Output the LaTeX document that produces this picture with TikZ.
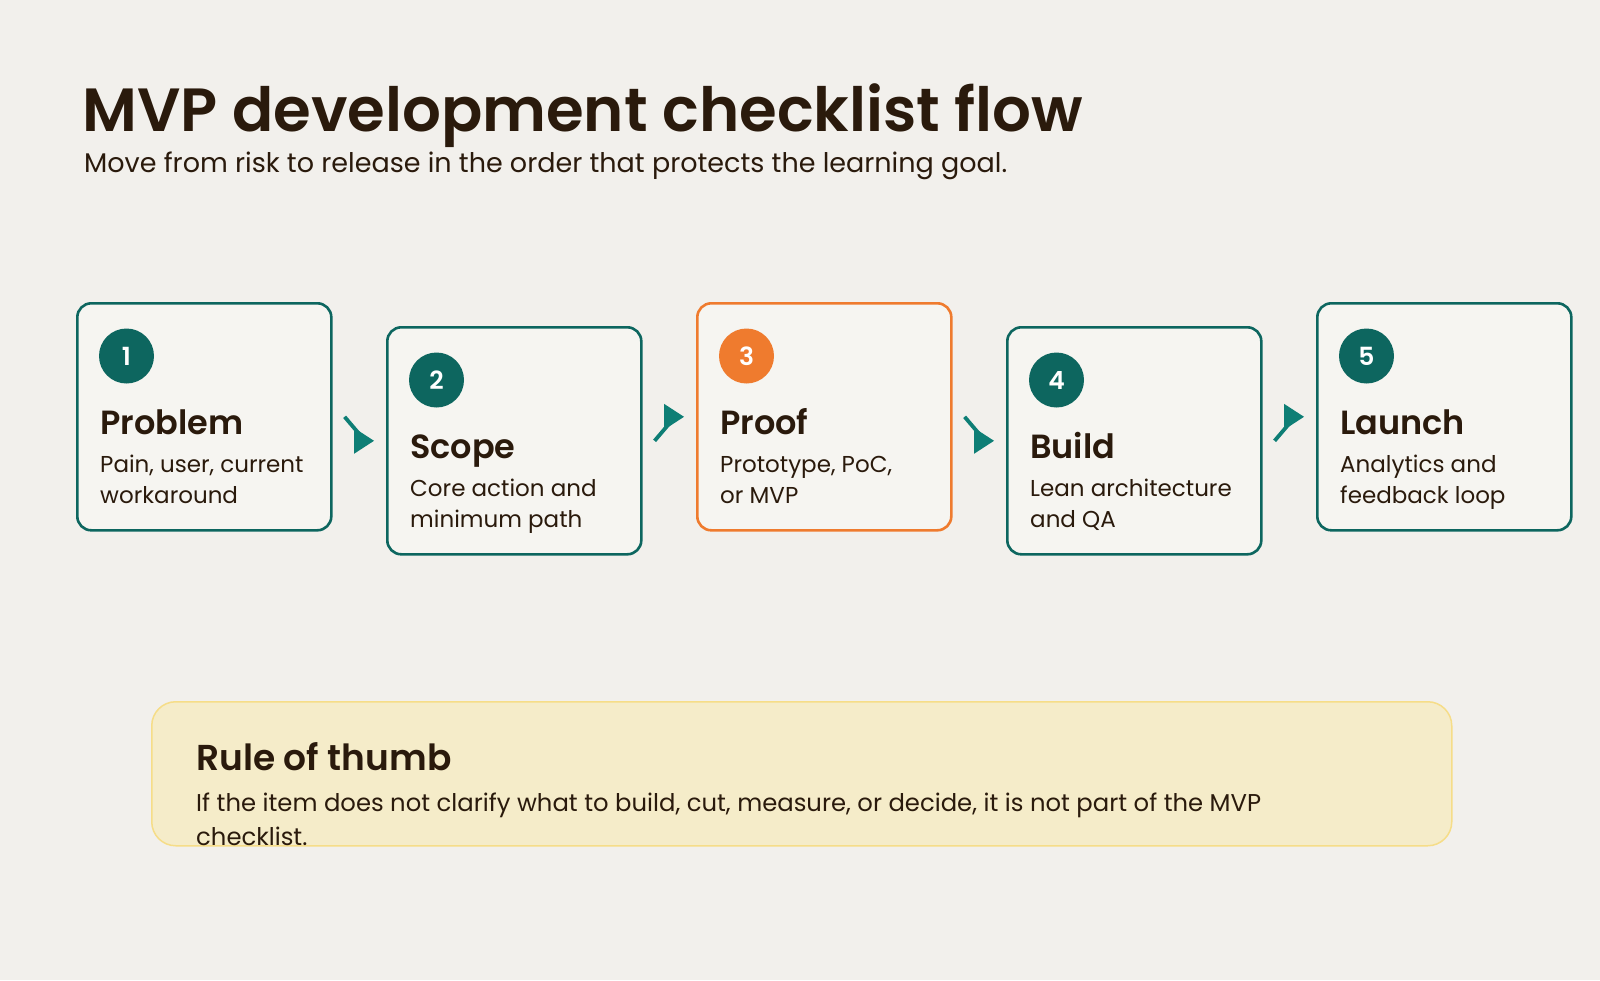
\documentclass[tikz,border=0pt]{standalone}
\usepackage{fontspec}
\setmainfont{Poppins}[BoldFont={Poppins SemiBold}]
\usetikzlibrary{arrows.meta}
\definecolor{bg}{HTML}{F2F0EC}
\definecolor{cardfill}{HTML}{F6F5F1}
\definecolor{teal}{HTML}{0D665F}
\definecolor{arrowteal}{HTML}{0E7E75}
\definecolor{orangec}{HTML}{EF7B2E}
\definecolor{ink}{HTML}{2A1A0C}
\definecolor{rulefill}{HTML}{F5ECC9}
\definecolor{ruledraw}{HTML}{F6DD88}
\tikzset{
  card/.style={draw=teal, line width=2.6pt, fill=cardfill, rounded corners=14pt, minimum width=254pt, minimum height=227pt, inner sep=0pt, anchor=north west},
  hotcard/.style={card, draw=orangec},
  badge/.style={circle, fill=teal, minimum size=55pt, inner sep=0pt, text=white, font=\fontsize{25}{25}\selectfont\bfseries},
  hotbadge/.style={badge, fill=orangec},
  cardtitle/.style={anchor=base west, inner sep=0pt, text=ink, font=\fontsize{33.5}{35}\selectfont\bfseries},
  cardbody/.style={anchor=base west, inner sep=0pt, text=ink, align=left, font=\fontsize{23}{30.5}\selectfont},
  flowline/.style={draw=arrowteal, line width=3.8pt},
  flowhead/.style={fill=arrowteal},
}
\begin{document}
\begin{tikzpicture}[x=1pt,y=-1pt]
\fill[bg] (0,0) rectangle (1600,980);
\useasboundingbox (0,0) rectangle (1600,980);
\node[anchor=base west, inner sep=0pt, text=ink, font=\fontsize{61}{64}\selectfont\bfseries] (title) at (82,131) {MVP development checklist flow};
\node[anchor=base west, inner sep=0pt, text=ink, font=\fontsize{27}{30}\selectfont] (subtitle) at (84,172) {Move from risk to release in the order that protects the learning goal.};
% cards
\node[card] (c1) at (76,302) {};
\node[card] (c2) at (386,326) {};
\node[hotcard] (c3) at (696,302) {};
\node[card] (c4) at (1006,326) {};
\node[card] (c5) at (1316,302) {};
% badges
\node[badge] (b1) at (126.5,356) {1};
\node[badge] (b2) at (436.5,380) {2};
\node[hotbadge] (b3) at (746.5,356) {3};
\node[badge] (b4) at (1056.5,380) {4};
\node[badge] (b5) at (1366.5,356) {5};
% titles
\node[cardtitle] (t1) at (100,434) {Problem};
\node[cardtitle] (t2) at (410,458) {Scope};
\node[cardtitle] (t3) at (720,434) {Proof};
\node[cardtitle] (t4) at (1030,458) {Build};
\node[cardtitle] (t5) at (1340,434) {Launch};
% bodies (base anchor = last line baseline)
\node[cardbody] (d1) at (100,503) {Pain, user, current\\workaround};
\node[cardbody] (d2) at (410,527) {Core action and\\minimum path};
\node[cardbody] (d3) at (720,503) {Prototype, PoC,\\or MVP};
\node[cardbody] (d4) at (1030,527) {Lean architecture\\and QA};
\node[cardbody] (d5) at (1340,503) {Analytics and\\feedback loop};
% connectors: diagonal line, arrowhead pointing right
\foreach \a/\b in {c1/c2, c2/c3, c3/c4, c4/c5} {
  \coordinate (s-\a) at ([xshift=12pt]\a.east);
  \coordinate (e-\a) at ([xshift=-12pt]\b.west);
  \draw[flowline] (s-\a) -- ([xshift=-9pt]e-\a);
  \fill[flowhead] (e-\a) -- ++(-20,-13) -- ++(0,26) -- cycle;
}
% rule of thumb
\node[draw=ruledraw, line width=1.5pt, fill=rulefill, rounded corners=24pt, minimum width=1300pt, minimum height=144pt, inner sep=0pt, anchor=north west] (rule) at (151,701) {};
\node[anchor=base west, inner sep=0pt, text=ink, font=\fontsize{36}{38}\selectfont\bfseries] (ruletitle) at (196,770) {Rule of thumb};
\node[anchor=base west, inner sep=0pt, text=ink, align=left, font=\fontsize{24.3}{34}\selectfont] (rulebody) at (196,845) {If the item does not clarify what to build, cut, measure, or decide, it is not part of the MVP\\checklist.};
\end{tikzpicture}
\end{document}
